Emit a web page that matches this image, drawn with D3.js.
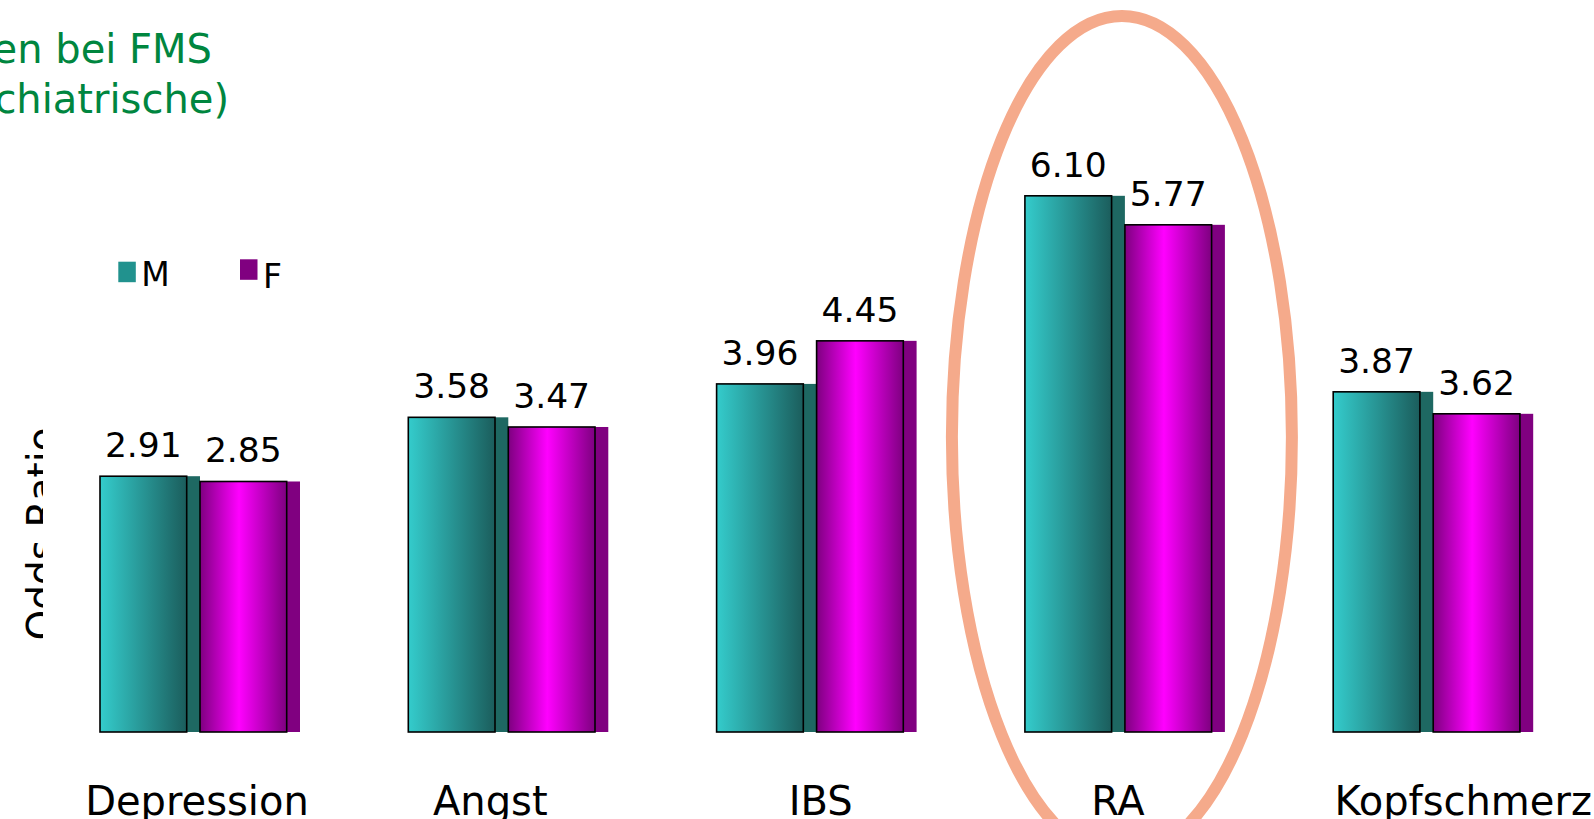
<!DOCTYPE html>
<html>
<head>
<meta charset="utf-8">
<script src="https://cdn.jsdelivr.net/npm/d3@7/dist/d3.min.js"></script>
<style>
  html, body { margin: 0; padding: 0; background: #fff; overflow: hidden; }
  svg { display: block; font-family: 'DejaVu Sans', Verdana, sans-serif; }
</style>
</head>
<body>
<div id="chart"></div>
<script>
// data
const categories = ['Depression', 'Angst', 'IBS', 'RA', 'Kopfschmerz']
const series = ['M', 'F']
const valuesM = [2.91, 3.58, 3.96, 6.10, 3.87]
const valuesF = [2.85, 3.47, 4.45, 5.77, 3.62]
const titleLines = ['Komorbiditäten bei FMS', '(somatische und psychiatrische)']
const yLabel = 'Odds Ratio'
const highlight = 'RA'

const WIDTH = 1594
const HEIGHT = 819
const BASE_Y = 732
const UNIT = 87.9 // px per odds-ratio unit
const DEPTH = 13.3 // 3d side face
const LABEL_DX = [-3, -18, 4, -7, 30] // category text nudges, as on the slide

const COLORS = {
    title: '#00863F',
    mLight: '#34CCCC',
    mDark: '#1B5D5C',
    mSide: '#1E6862',
    mLegend: '#21928E',
    fEdge: '#7E0080',
    fBright: '#FF00FF',
    fSide: '#800080',
    ring: '#F5AA8B'
}

const svg = d3.select('#chart')
    .append('svg')
    .attr('width', WIDTH)
    .attr('height', HEIGHT)

const defs = svg.append('defs')
const gM = defs.append('linearGradient').attr('id', 'gradM')
gM.append('stop').attr('offset', '0%').attr('stop-color', COLORS.mLight)
gM.append('stop').attr('offset', '100%').attr('stop-color', COLORS.mDark)
const gF = defs.append('linearGradient').attr('id', 'gradF')
gF.append('stop').attr('offset', '0%').attr('stop-color', COLORS.fEdge)
gF.append('stop').attr('offset', '45%').attr('stop-color', COLORS.fBright)
gF.append('stop').attr('offset', '100%').attr('stop-color', COLORS.fEdge)

/**
 * Scales
 */
const x = d3.scaleBand()
    .domain(categories)
    .range([100, 1533.2])
    .paddingInner(0.3513)
    .paddingOuter(0)

const xs = d3.scaleBand()
    .domain(series)
    .range([0, x.bandwidth()])

const y = d3.scaleLinear()
    .domain([0, 7])
    .range([BASE_Y, BASE_Y - 7 * UNIT])

const rows = categories.map((c, i) => ({ cat: c, i, M: valuesM[i], F: valuesF[i] }))

/**
 * Title (runs off the left edge)
 */
const title = svg.append('g')
    .attr('fill', COLORS.title)
    .attr('font-size', '40px')
    .attr('text-anchor', 'end')
title.append('text').attr('x', 212).attr('y', 62.5).text(titleLines[0])
title.append('text').attr('x', 229).attr('y', 113).text(titleLines[1])

/**
 * Bars
 */
const groups = svg.append('g')
    .selectAll('g')
    .data(rows)
    .join('g')
    .attr('transform', d => `translate(${x(d.cat)},0)`)

const barW = xs.bandwidth() - DEPTH
series.forEach(s => {
    groups.append('rect')
        .attr('x', xs(s) + barW)
        .attr('y', d => y(d[s]))
        .attr('width', DEPTH)
        .attr('height', d => y(0) - y(d[s]))
        .attr('fill', s === 'M' ? COLORS.mSide : COLORS.fSide)
    groups.append('rect')
        .attr('x', xs(s))
        .attr('y', d => y(d[s]))
        .attr('width', barW)
        .attr('height', d => y(0) - y(d[s]))
        .attr('fill', s === 'M' ? 'url(#gradM)' : 'url(#gradF)')
        .attr('stroke', '#000')
        .attr('stroke-width', 1.6)
    groups.append('text')
        .attr('x', xs(s) + barW / 2)
        .attr('y', d => y(d[s]) - 19)
        .attr('text-anchor', 'middle')
        .attr('font-size', '34.5px')
        .attr('fill', '#000')
        .text(d => d[s].toFixed(2))
})

/**
 * Category labels
 */
svg.append('g')
    .selectAll('text')
    .data(rows)
    .join('text')
    .attr('x', d => x(d.cat) + x.bandwidth() / 2 + LABEL_DX[d.i])
    .attr('y', 815)
    .attr('text-anchor', 'middle')
    .attr('font-size', '40px')
    .attr('fill', '#000')
    .text(d => d.cat)

/**
 * Y label, its lower half hidden like on the slide
 */
defs.append('clipPath').attr('id', 'ylabClip')
    .append('rect').attr('x', 0).attr('y', 380).attr('width', 43).attr('height', 300)
svg.append('g')
    .attr('clip-path', 'url(#ylabClip)')
    .append('text')
    .attr('transform', 'translate(55,534) rotate(-90)')
    .attr('text-anchor', 'middle')
    .attr('font-size', '39px')
    .attr('fill', '#000')
    .text(yLabel)

/**
 * Legend
 */
const legend = svg.append('g')
const legendItems = [
    { name: series[0], color: COLORS.mLegend, x: 118.3, y: 261.7, ty: 286 },
    { name: series[1], color: COLORS.fSide, x: 240, y: 259.3, ty: 288.3 }
]
legend.selectAll('rect')
    .data(legendItems)
    .join('rect')
    .attr('x', d => d.x)
    .attr('y', d => d.y)
    .attr('width', 17.5)
    .attr('height', 20.5)
    .attr('fill', d => d.color)
legend.selectAll('text')
    .data(legendItems)
    .join('text')
    .attr('x', d => d.x + 23)
    .attr('y', d => d.ty)
    .attr('font-size', '33px')
    .attr('fill', '#000')
    .text(d => d.name)

/**
 * Highlight ring round RA
 */
svg.append('ellipse')
    .attr('cx', x(highlight) + x.bandwidth() / 2 - 3)
    .attr('cy', 437)
    .attr('rx', 170)
    .attr('ry', 421)
    .attr('fill', 'none')
    .attr('stroke', COLORS.ring)
    .attr('stroke-width', 12)
</script>
</body>
</html>
